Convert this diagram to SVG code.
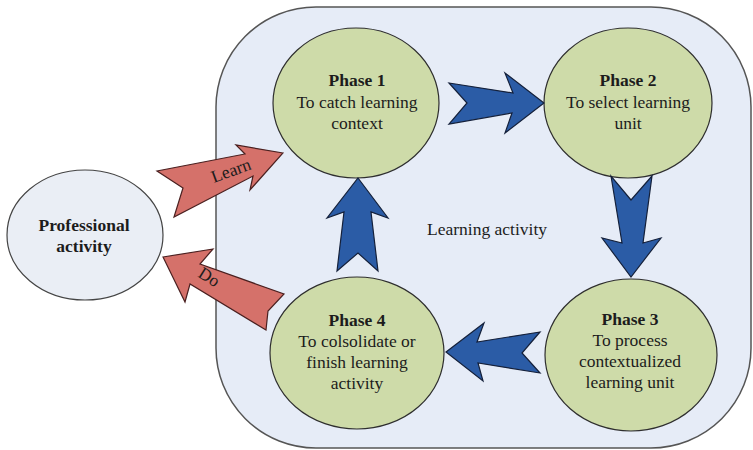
<svg xmlns="http://www.w3.org/2000/svg" width="753" height="450" viewBox="0 0 753 450">
<style>
.phase{fill:#cedba9;stroke:#2e2e2e;stroke-width:1.2}
.t{font-family:"Liberation Serif","Times New Roman",serif;font-size:17.5px;fill:#1c1c1c;text-anchor:middle}
.b{font-weight:bold}
.blue{fill:#2b5ca6;stroke:#14203a;stroke-width:1.2;stroke-linejoin:miter}
.red{fill:#d5716a;stroke:#4a2020;stroke-width:1.2}
</style>
<rect x="216" y="7" width="535" height="441" rx="100" ry="100" fill="#e6ecf7" stroke="#555" stroke-width="1.5"/>
<text class="t" x="487" y="235">Learning activity</text>
<g id="professional">
<ellipse cx="85" cy="235" rx="78" ry="65" fill="#eaeef5" stroke="#444" stroke-width="1.2"/>
<text class="t b" x="84" y="231">Professional</text>
<text class="t b" x="84" y="252">activity</text>
</g>
<g id="phase1">
<ellipse class="phase" cx="356" cy="103" rx="83" ry="75"/>
<text class="t b" x="357" y="86">Phase 1</text>
<text class="t" x="357" y="108">To catch learning</text>
<text class="t" x="357" y="129">context</text>
</g>
<g id="phase2">
<ellipse class="phase" cx="628" cy="103" rx="84" ry="75"/>
<text class="t b" x="628" y="86">Phase 2</text>
<text class="t" x="628" y="108">To select learning</text>
<text class="t" x="628" y="129">unit</text>
</g>
<g id="phase3">
<ellipse class="phase" cx="631" cy="355" rx="86" ry="76"/>
<text class="t b" x="630" y="325">Phase 3</text>
<text class="t" x="630" y="346">To process</text>
<text class="t" x="630" y="367">contextualized</text>
<text class="t" x="630" y="388">learning unit</text>
</g>
<g id="phase4">
<ellipse class="phase" cx="357" cy="353" rx="87" ry="76"/>
<text class="t b" x="357" y="326">Phase 4</text>
<text class="t" x="357" y="347">To colsolidate or</text>
<text class="t" x="357" y="368">finish learning</text>
<text class="t" x="357" y="389">activity</text>
</g>
<g id="connectors">
<polygon class="blue" points="449,83 513,93 505,73 544,103 505,133 512,113 449,124 467,103"/>
<polygon class="blue" points="611,176 622,243 602,238 631,277 661,238 643,243 652,176 631,200"/>
<polygon class="blue" points="446,352 484,323 477,342 540,332 522,353 540,373 478,363 483,381"/>
<polygon class="blue" points="358,178 388,218 371,212 378,271 358,253 337,271 344,212 327,218"/>
<polygon class="red" points="283,153 236,145 245,154 157,171 183,188 174,217 253,176 250,190"/>
<polygon class="red" points="163,257 213,249 200,264 284,294 268,311 266,330 190,284 185,302"/>
<text class="t" x="0" y="0" transform="translate(233,176) rotate(-20)">Learn</text>
<text class="t" x="0" y="0" transform="translate(206,282) rotate(32)">Do</text>
</g>
</svg>
